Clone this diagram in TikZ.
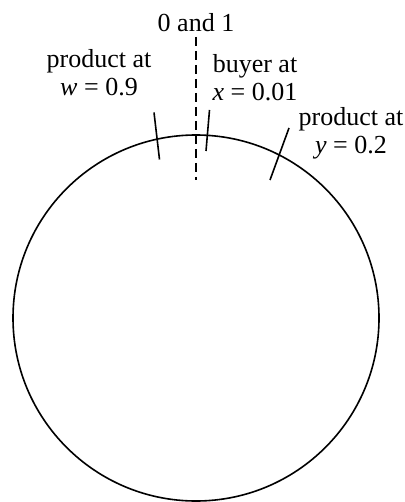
\documentclass[tikz,border=0pt]{standalone}
\usepackage{fontspec}
\setmainfont{Liberation Serif}
\begin{document}
\begin{tikzpicture}[x=1pt,y=-1pt,
  lbl/.style={align=center,inner sep=0pt,font=\fontsize{26}{28}\selectfont,anchor=base},
  tick/.style={line width=1.6pt},
  zeroline/.style={line width=1.6pt,dash pattern=on 9pt off 5pt}]
\useasboundingbox (0,0) rectangle (404,502);
\coordinate (c) at (196,318);
\draw[line width=1.6pt] (c) circle[radius=183];
% labels (base anchor = baseline of last line)
\node[lbl] (zero) at (196,31.5) {0 and 1};
\node[lbl] (wl) at (99,96) {product at\\\textit{w} = 0.9};
\node[lbl] (xl) at (255,101) {buyer at\\\textit{x} = 0.01};
\node[lbl] (yl) at (351,153.5) {product at\\\textit{y} = 0.2};
% dashed zero line
\coordinate (d1) at (196,37);
\coordinate (d2) at (196,180);
\draw[zeroline] (d1) -- (d2);
% ticks
\coordinate (w1) at (154,112.5);
\coordinate (w2) at (159.5,159.5);
\coordinate (x1) at (209.5,110);
\coordinate (x2) at (206,151);
\coordinate (y1) at (289,128);
\coordinate (y2) at (270,180);
\draw[tick] (w1) -- (w2);
\draw[tick] (x1) -- (x2);
\draw[tick] (y1) -- (y2);
\end{tikzpicture}
\end{document}
